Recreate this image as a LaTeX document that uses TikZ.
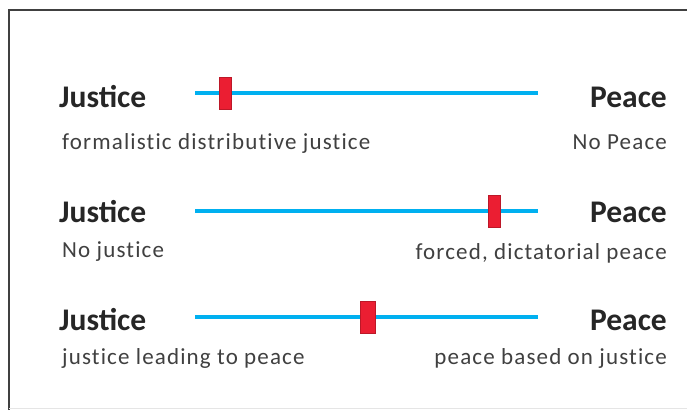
\documentclass[tikz,border=0pt]{standalone}
\usepackage{fontspec}
\setmainfont{Carlito}
\newfontfamily\spacedfont[LetterSpace=5,Ligatures=NoCommon]{Carlito}
\definecolor{barblue}{RGB}{0,176,240}
\definecolor{mark}{RGB}{235,30,50}
\definecolor{txt}{RGB}{38,38,38}
\definecolor{subtxt}{RGB}{64,64,64}
\begin{document}
\begin{tikzpicture}[x=1pt,y=-1pt,
  big/.style={font=\fontsize{31.5}{34}\selectfont\bfseries, text=txt, inner sep=0pt},
  small/.style={font=\spacedfont\fontsize{23}{26}\selectfont, text=subtxt, inner sep=0pt},
  bar/.style={draw=barblue, line width=4pt},
  slider/.style={fill=mark, draw=mark!80!black, line width=0.6pt, minimum width=12pt, minimum height=32pt, inner sep=0pt}]
\useasboundingbox (0,0) rectangle (687,410);
\fill[white] (0,0) rectangle (687,410);
\draw[line width=2.5pt, black!75] (9,410) |- (687,10);
\draw[black!10, line width=0.6pt] (9,408.5) -- (687,408.5);
% row 1
\node[big, anchor=base west] (j1) at (59,107) {Justice};
\node[big, anchor=base east] (p1) at (667,107) {Peace};
\coordinate (a1) at (195,93);
\coordinate (b1) at (538,93);
\draw[bar] (a1) -- (b1);
\node[slider] (m1) at (225,93) {};
\node[small, anchor=base west] (s1) at (62,149) {formalistic distributive justice};
\node[small, anchor=base east] (t1) at (667,149) {No Peace};
% row 2
\node[big, anchor=base west] (j2) at (59,222) {Justice};
\node[big, anchor=base east] (p2) at (667,222) {Peace};
\coordinate (a2) at (195,211);
\coordinate (b2) at (538,211);
\draw[bar] (a2) -- (b2);
\node[slider] (m2) at (494,211) {};
\node[small, anchor=base west] (s2) at (62,257) {No justice};
\node[small, anchor=base east] (t2) at (667,259) {forced, dictatorial peace};
% row 3
\node[big, anchor=base west] (j3) at (59,330) {Justice};
\node[big, anchor=base east] (p3) at (667,330) {Peace};
\coordinate (a3) at (195,317);
\coordinate (b3) at (538,317);
\draw[bar] (a3) -- (b3);
\node[slider, minimum width=15pt] (m3) at (368,317) {};
\node[small, anchor=base west] (s3) at (62,364) {justice leading to peace};
\node[small, anchor=base east] (t3) at (667,364) {peace based on justice};
\end{tikzpicture}
\end{document}
